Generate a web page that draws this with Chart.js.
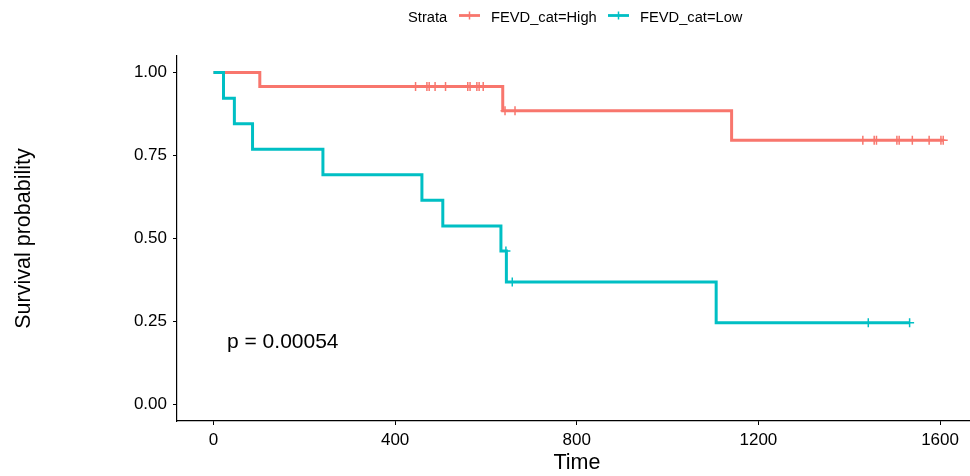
<!DOCTYPE html>
<html>
<head>
<meta charset="utf-8">
<script src="https://cdn.jsdelivr.net/npm/chart.js@4.4.1/dist/chart.umd.min.js"></script>
<style>
  html, body { margin: 0; padding: 0; background: #fff; overflow: hidden; width: 970px; height: 476px; }
  #wrap { position: absolute; left: 0; top: 0; width: 990px; height: 476px; }
</style>
</head>
<body>
<div id="wrap"><canvas id="c" width="990" height="476"></canvas></div>
<script>
// ---- data ----
const strataNames = ["FEVD_cat=High", "FEVD_cat=Low"];
const colorHigh = "#F8766D";
const colorLow = "#00BFC4";

// Kaplan-Meier step points (time, survival) — High group
const highTimes = [0, 102, 637, 1141, 1607];
const highSurv  = [1, 0.958, 0.885, 0.796, 0.796];
// censored times — High group
const highCensor = [445, 470, 475, 488, 511, 560, 565, 580, 585, 594, 642, 664,
                    1430, 1455, 1460, 1505, 1510, 1539, 1576, 1602, 1607];

// Low group
const lowTimes = [0, 22, 46, 86, 241, 459, 505, 633, 645, 1107, 1533];
const lowSurv  = [1, 0.923, 0.846, 0.769, 0.692, 0.615, 0.538, 0.462, 0.369, 0.246, 0.246];
const lowCensor = [644, 658, 1442, 1533];

const xTicks = [0, 400, 800, 1200, 1600];
const yTicks = [0, 0.25, 0.5, 0.75, 1];
const pValueText = "p = 0.00054";
const xTitle = "Time";
const yTitle = "Survival probability";
const legendTitle = "Strata";

// ---- helpers ----
function stepPoints(times, surv) {
  return times.map((t, i) => ({ x: t, y: surv[i] }));
}
function survAt(times, surv, t) {
  let s = surv[0];
  for (let i = 0; i < times.length; i++) { if (times[i] <= t) s = surv[i]; }
  return s;
}
function censorPoints(ctimes, times, surv) {
  return ctimes.map(t => ({ x: t, y: survAt(times, surv, t) }));
}

const FONT = "'Liberation Sans', Arial, Helvetica, sans-serif";

const overlay = {
  id: 'overlay',
  afterDraw(chart) {
    const ctx = chart.ctx;
    const ca = chart.chartArea;
    ctx.save();
    ctx.fillStyle = '#000';
    // p-value
    ctx.font = "21px " + FONT;
    ctx.textAlign = 'left';
    ctx.textBaseline = 'alphabetic';
    ctx.fillText(pValueText, 227, 347.5);
    // x title
    ctx.font = "21.5px " + FONT;
    ctx.textAlign = 'center';
    ctx.fillText(xTitle, 577, 469);
    // y title
    ctx.save();
    ctx.translate(30, (ca.top + ca.bottom) / 2);
    ctx.rotate(-Math.PI / 2);
    ctx.textAlign = 'center';
    ctx.fillText(yTitle, 0, 0);
    ctx.restore();
    // legend
    ctx.font = "14.7px " + FONT;
    ctx.textAlign = 'left';
    ctx.fillText(legendTitle, 408, 22.3);
    const keys = [
      { x0: 459, x1: 480, tx: 491, color: colorHigh, label: strataNames[0] },
      { x0: 608, x1: 629, tx: 640, color: colorLow, label: strataNames[1] }
    ];
    keys.forEach(k => {
      ctx.strokeStyle = k.color;
      ctx.lineWidth = 2.8;
      ctx.beginPath();
      ctx.moveTo(k.x0, 15.5); ctx.lineTo(k.x1, 15.5);
      ctx.stroke();
      ctx.lineWidth = 1.5;
      const cx = (k.x0 + k.x1) / 2;
      ctx.beginPath();
      ctx.moveTo(cx, 11.5); ctx.lineTo(cx, 19.5);
      ctx.stroke();
      ctx.fillStyle = '#000';
      ctx.fillText(k.label, k.tx, 22.3);
    });
    ctx.restore();
  }
};

new Chart(document.getElementById('c'), {
  type: 'line',
  data: {
    datasets: [
      { label: 'LowCensor', type: 'scatter', data: censorPoints(lowCensor, lowTimes, lowSurv),
        pointStyle: 'cross', pointRadius: 4.5, pointBorderWidth: 1.5, borderColor: colorLow,
        backgroundColor: colorLow, showLine: false },
      { label: strataNames[1], data: stepPoints(lowTimes, lowSurv), stepped: true,
        borderColor: colorLow, borderWidth: 3, pointRadius: 0, fill: false,
        borderJoinStyle: 'miter', borderCapStyle: 'butt' },
      { label: 'HighCensor', type: 'scatter', data: censorPoints(highCensor, highTimes, highSurv),
        pointStyle: 'cross', pointRadius: 4.5, pointBorderWidth: 1.5, borderColor: colorHigh,
        backgroundColor: colorHigh, showLine: false },
      { label: strataNames[0], data: stepPoints(highTimes, highSurv), stepped: true,
        borderColor: colorHigh, borderWidth: 3, pointRadius: 0, fill: false,
        borderJoinStyle: 'miter', borderCapStyle: 'butt' }
    ]
  },
  options: {
    responsive: false,
    animation: false,
    devicePixelRatio: 1,
    layout: { padding: { left: 0, top: 56, right: 10.3, bottom: 0 } },
    plugins: { legend: { display: false }, tooltip: { enabled: false } },
    scales: {
      x: {
        type: 'linear', min: -80.35, max: 1687.35,
        afterBuildTicks: s => { s.ticks = xTicks.map(v => ({ value: v })); },
        afterFit: s => { s.height = 55; },
        grid: { drawOnChartArea: false, drawTicks: true, tickLength: 4, color: '#000', tickWidth: 1 },
        border: { display: true, color: '#000', width: 1.2 },
        ticks: { color: '#000', font: { family: FONT, size: 17 }, padding: 5, maxRotation: 0,
                 callback: v => String(v) }
      },
      y: {
        type: 'linear', min: -0.05, max: 1.05,
        afterBuildTicks: s => { s.ticks = yTicks.map(v => ({ value: v })); },
        afterFit: s => { s.width = 177; },
        grid: { drawOnChartArea: false, drawTicks: true, tickLength: 4, color: '#000', tickWidth: 1 },
        border: { display: true, color: '#000', width: 1.2 },
        ticks: { color: '#000', font: { family: FONT, size: 17 }, padding: 6,
                 callback: v => Number(v).toFixed(2) }
      }
    }
  },
  plugins: [overlay]
});
</script>
</body>
</html>
